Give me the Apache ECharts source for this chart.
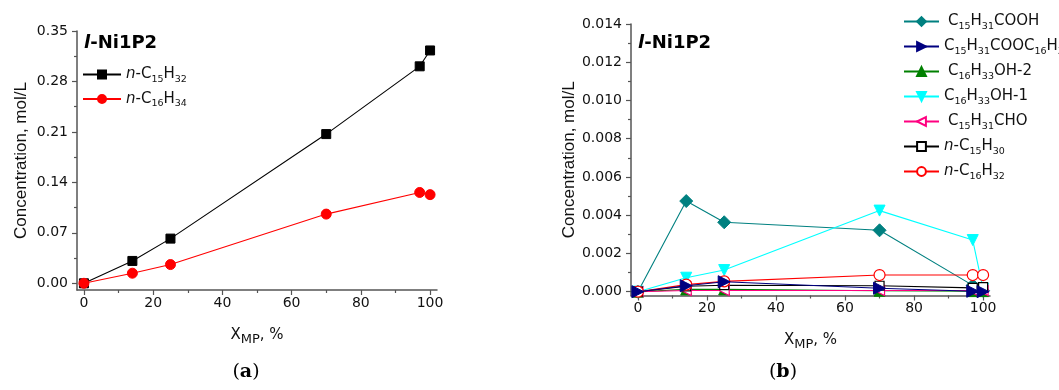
<!DOCTYPE html>
<html>
<head>
<meta charset="utf-8">
<script src="https://cdn.jsdelivr.net/npm/echarts@6/dist/echarts.min.js"></script>
<style>
  html, body { margin: 0; padding: 0; background: #fff; }
  #chart { width: 1059px; height: 390px; }
</style>
</head>
<body>
<div id="chart"></div>
<script>
// Conversion of methyl palmitate (X_MP, %)
const xMP = [0, 14, 25, 70, 97, 100];

// Panel (a): alkanes, mol/L
const nC15H32 = [0, 0.031, 0.062, 0.207, 0.301, 0.323];
const nC16H34 = [0, 0.014, 0.026, 0.096, 0.126, 0.123];

// Panel (b): intermediates, mol/L
const c15h31cooh     = [0, 0.00474, 0.00363, 0.00321, 0.00033, 0.00005];
const c15h31cooc16   = [0, 0.00031, 0.00052, 0.00018, 0.00002, 0.0];
const c16h33oh2      = [0, 0.00012, 0.00012, 0.00005, 0.00003, 0.00003];
const c16h33oh1      = [0, 0.00073, 0.00113, 0.00424, 0.0027, 0.00015];
const c15h31cho      = [0, 0.00006, 0.00006, 0.00006, 0.00006, 0.00006];
const nC15H30        = [0, 0.00028, 0.00034, 0.00031, 0.0002, 0.00024];
const nC16H32        = [0, 0.00037, 0.00054, 0.00087, 0.00087, 0.00087];

// Axis ticks
const xMajor = [0, 20, 40, 60, 80, 100];
const xMinor = [10, 30, 50, 70, 90];
const yAMajor = [0, 0.07, 0.14, 0.21, 0.28, 0.35];
const yAMinor = [0.035, 0.105, 0.175, 0.245, 0.315];
const yBMajor = [0, 0.002, 0.004, 0.006, 0.008, 0.010, 0.012, 0.014];
const yBMinor = [0.001, 0.003, 0.005, 0.007, 0.009, 0.011, 0.013];

// Legend text with subscripts (rich text)
const legendA = {
  'n-C15H32': '{i|n}{t|-C}{s|15}{t|H}{s|32}',
  'n-C16H34': '{i|n}{t|-C}{s|16}{t|H}{s|34}'
};
const legendB = {
  'C15H31COOH': '{g|}{t|C}{s|15}{t|H}{s|31}{t|COOH}',
  'C15H31COOC16H33': '{t|C}{s|15}{t|H}{s|31}{t|COOC}{s|16}{t|H}{s|33}',
  'C16H33OH-2': '{g|}{t|C}{s|16}{t|H}{s|33}{t|OH-2}',
  'C16H33OH-1': '{t|C}{s|16}{t|H}{s|33}{t|OH-1}',
  'C15H31CHO': '{g|}{t|C}{s|15}{t|H}{s|31}{t|CHO}',
  'n-C15H30': '{i|n}{t|-C}{s|15}{t|H}{s|30}',
  'n-C16H32': '{i|n}{t|-C}{s|16}{t|H}{s|32}'
};

const FONT = 'DejaVu Sans';
const TXT = '#111';
const AXIS = '#555';

const richLegend = {
  t: { fontFamily: FONT, fontSize: 15, color: TXT, lineHeight: 20 },
  i: { fontFamily: FONT, fontSize: 15, color: TXT, fontStyle: 'italic', lineHeight: 20 },
  s: { fontFamily: FONT, fontSize: 9.5, color: TXT, verticalAlign: 'bottom', lineHeight: 20 },
  g: { width: 4 }
};

function pairs(ys) { return xMP.map((x, i) => [x, ys[i]]); }

function xAxes(grid) {
  return [
    {
      type: 'value', gridIndex: grid, min: -2, max: 102, position: 'bottom',
      axisLine: { show: true, onZero: false, lineStyle: { color: AXIS, width: 1.5 } },
      axisTick: { show: true, inside: false, length: 5, customValues: xMajor, lineStyle: { color: AXIS, width: 1.2 } },
      axisLabel: { customValues: xMajor, margin: 6, color: TXT, fontFamily: FONT, fontSize: 14 },
      splitLine: { show: false },
      name: '{n|X}{s|MP}{n|, %}',
      nameLocation: 'middle', nameGap: 34,
      nameTextStyle: {
        rich: {
          n: { fontFamily: FONT, fontSize: 15, color: TXT, lineHeight: 22 },
          s: { fontFamily: FONT, fontSize: 13, color: TXT, verticalAlign: 'bottom', lineHeight: 22 }
        }
      }
    },
    {
      type: 'value', gridIndex: grid, min: -2, max: 102, position: 'bottom',
      axisLine: { show: false, onZero: false },
      axisTick: { show: true, inside: false, length: 3, customValues: xMinor, lineStyle: { color: AXIS, width: 1.2 } },
      axisLabel: { show: false },
      splitLine: { show: false }
    }
  ];
}

function yAxes(grid, min, max, major, minor, digits, gap) {
  return [
    {
      type: 'value', gridIndex: grid, min: min, max: max, position: 'left',
      axisLine: { show: true, onZero: false, lineStyle: { color: AXIS, width: 1.5 } },
      axisTick: { show: true, inside: false, length: 5, customValues: major, lineStyle: { color: AXIS, width: 1.2 } },
      axisLabel: { customValues: major, margin: 9, color: TXT, fontFamily: FONT, fontSize: 14,
                   formatter: v => v.toFixed(digits) },
      splitLine: { show: false },
      name: 'Concentration, mol/L',
      nameLocation: 'middle', nameGap: gap,
      nameTextStyle: { fontFamily: 'Liberation Sans', fontSize: 17, color: TXT }
    },
    {
      type: 'value', gridIndex: grid, min: min, max: max, position: 'left',
      axisLine: { show: false, onZero: false },
      axisTick: { show: true, inside: false, length: 3, customValues: minor, lineStyle: { color: AXIS, width: 1.2 } },
      axisLabel: { show: false },
      splitLine: { show: false }
    }
  ];
}

function lineSeries(name, ys, color, symbol, size, opts) {
  return Object.assign({
    name: name, type: 'line',
    xAxisIndex: 0, yAxisIndex: 0,
    data: pairs(ys),
    symbol: symbol, symbolSize: size,
    showAllSymbol: true,
    lineStyle: { color: color, width: 1.1 },
    itemStyle: { color: color, borderColor: color, borderWidth: 1 },
    animation: false,
    clip: false
  }, opts || {});
}

const hollow = c => ({ color: '#fff', borderColor: c, borderWidth: 1.2 });

const chart = echarts.init(document.getElementById('chart'), null, { renderer: 'canvas' });

const option = {
  backgroundColor: '#fff',
  animation: false,
  grid: [
    { left: 77, top: 31, width: 360, height: 259 },
    { left: 631, top: 24, width: 359, height: 271.5 }
  ],
  xAxis: [...xAxes(0), ...xAxes(1)],
  yAxis: [
    ...yAxes(0, -0.0093, 0.35, yAMajor, yAMinor, 2, 47),
    ...yAxes(1, -0.0002, 0.014, yBMajor, yBMinor, 3, 48)
  ],
  legend: [
    {
      data: ['n-C15H32', 'n-C16H34'],
      orient: 'vertical', left: 77, top: 62, itemWidth: 38, itemHeight: 10, itemGap: 7,
      formatter: n => legendA[n],
      textStyle: { rich: richLegend }
    },
    {
      data: Object.keys(legendB),
      orient: 'vertical', left: 898, top: 9, itemWidth: 35, itemHeight: 11, itemGap: 7.5,
      formatter: n => legendB[n],
      textStyle: { rich: richLegend }
    }
  ],
  series: [
    lineSeries('n-C15H32', nC15H32, '#000', 'rect', 9),
    lineSeries('n-C16H34', nC16H34, '#ff0000', 'circle', 10),

    Object.assign(lineSeries('C15H31COOH', c15h31cooh, '#008080', 'diamond', 13), { xAxisIndex: 2, yAxisIndex: 2 }),
    Object.assign(lineSeries('C16H33OH-2', c16h33oh2, '#008000', 'triangle', 11), { xAxisIndex: 2, yAxisIndex: 2 }),
    Object.assign(lineSeries('C16H33OH-1', c16h33oh1, '#00ffff', 'triangle', 11), { xAxisIndex: 2, yAxisIndex: 2, symbolRotate: 180 }),
    Object.assign(lineSeries('C15H31CHO', c15h31cho, '#ff0080', 'triangle', 10), { xAxisIndex: 2, yAxisIndex: 2, symbolRotate: 90, itemStyle: hollow('#ff0080') }),
    Object.assign(lineSeries('n-C15H30', nC15H30, '#000', 'rect', 9), { xAxisIndex: 2, yAxisIndex: 2, itemStyle: hollow('#000') }),
    Object.assign(lineSeries('n-C16H32', nC16H32, '#ff0000', 'circle', 11), { xAxisIndex: 2, yAxisIndex: 2, itemStyle: hollow('#ff0000') }),
    Object.assign(lineSeries('C15H31COOC16H33', c15h31cooc16, '#000080', 'triangle', 12), { xAxisIndex: 2, yAxisIndex: 2, symbolRotate: -90, z: 4 })
  ],
  graphic: [
    { type: 'text', left: 84, top: 34, style: { text: '{i|l}{b|-Ni1P2}', rich: {
        i: { fontFamily: FONT, fontSize: 18, fontWeight: 'bold', fontStyle: 'italic', fill: '#000' },
        b: { fontFamily: FONT, fontSize: 18, fontWeight: 'bold', fill: '#000' } } } },
    { type: 'text', left: 638, top: 34, style: { text: '{i|l}{b|-Ni1P2}', rich: {
        i: { fontFamily: FONT, fontSize: 18, fontWeight: 'bold', fontStyle: 'italic', fill: '#000' },
        b: { fontFamily: FONT, fontSize: 18, fontWeight: 'bold', fill: '#000' } } } },
    { type: 'text', x: 246, y: 372, style: { text: '{p|(}{b|a}{p|)}', align: 'center', verticalAlign: 'middle', rich: {
        p: { fontFamily: 'DejaVu Serif', fontSize: 19, fill: '#000' },
        b: { fontFamily: 'DejaVu Serif', fontSize: 19, fontWeight: 'bold', fill: '#000' } } } },
    { type: 'text', x: 783, y: 372, style: { text: '{p|(}{b|b}{p|)}', align: 'center', verticalAlign: 'middle', rich: {
        p: { fontFamily: 'DejaVu Serif', fontSize: 19, fill: '#000' },
        b: { fontFamily: 'DejaVu Serif', fontSize: 19, fontWeight: 'bold', fill: '#000' } } } }
  ]
};

chart.setOption(option);
</script>
</body>
</html>
